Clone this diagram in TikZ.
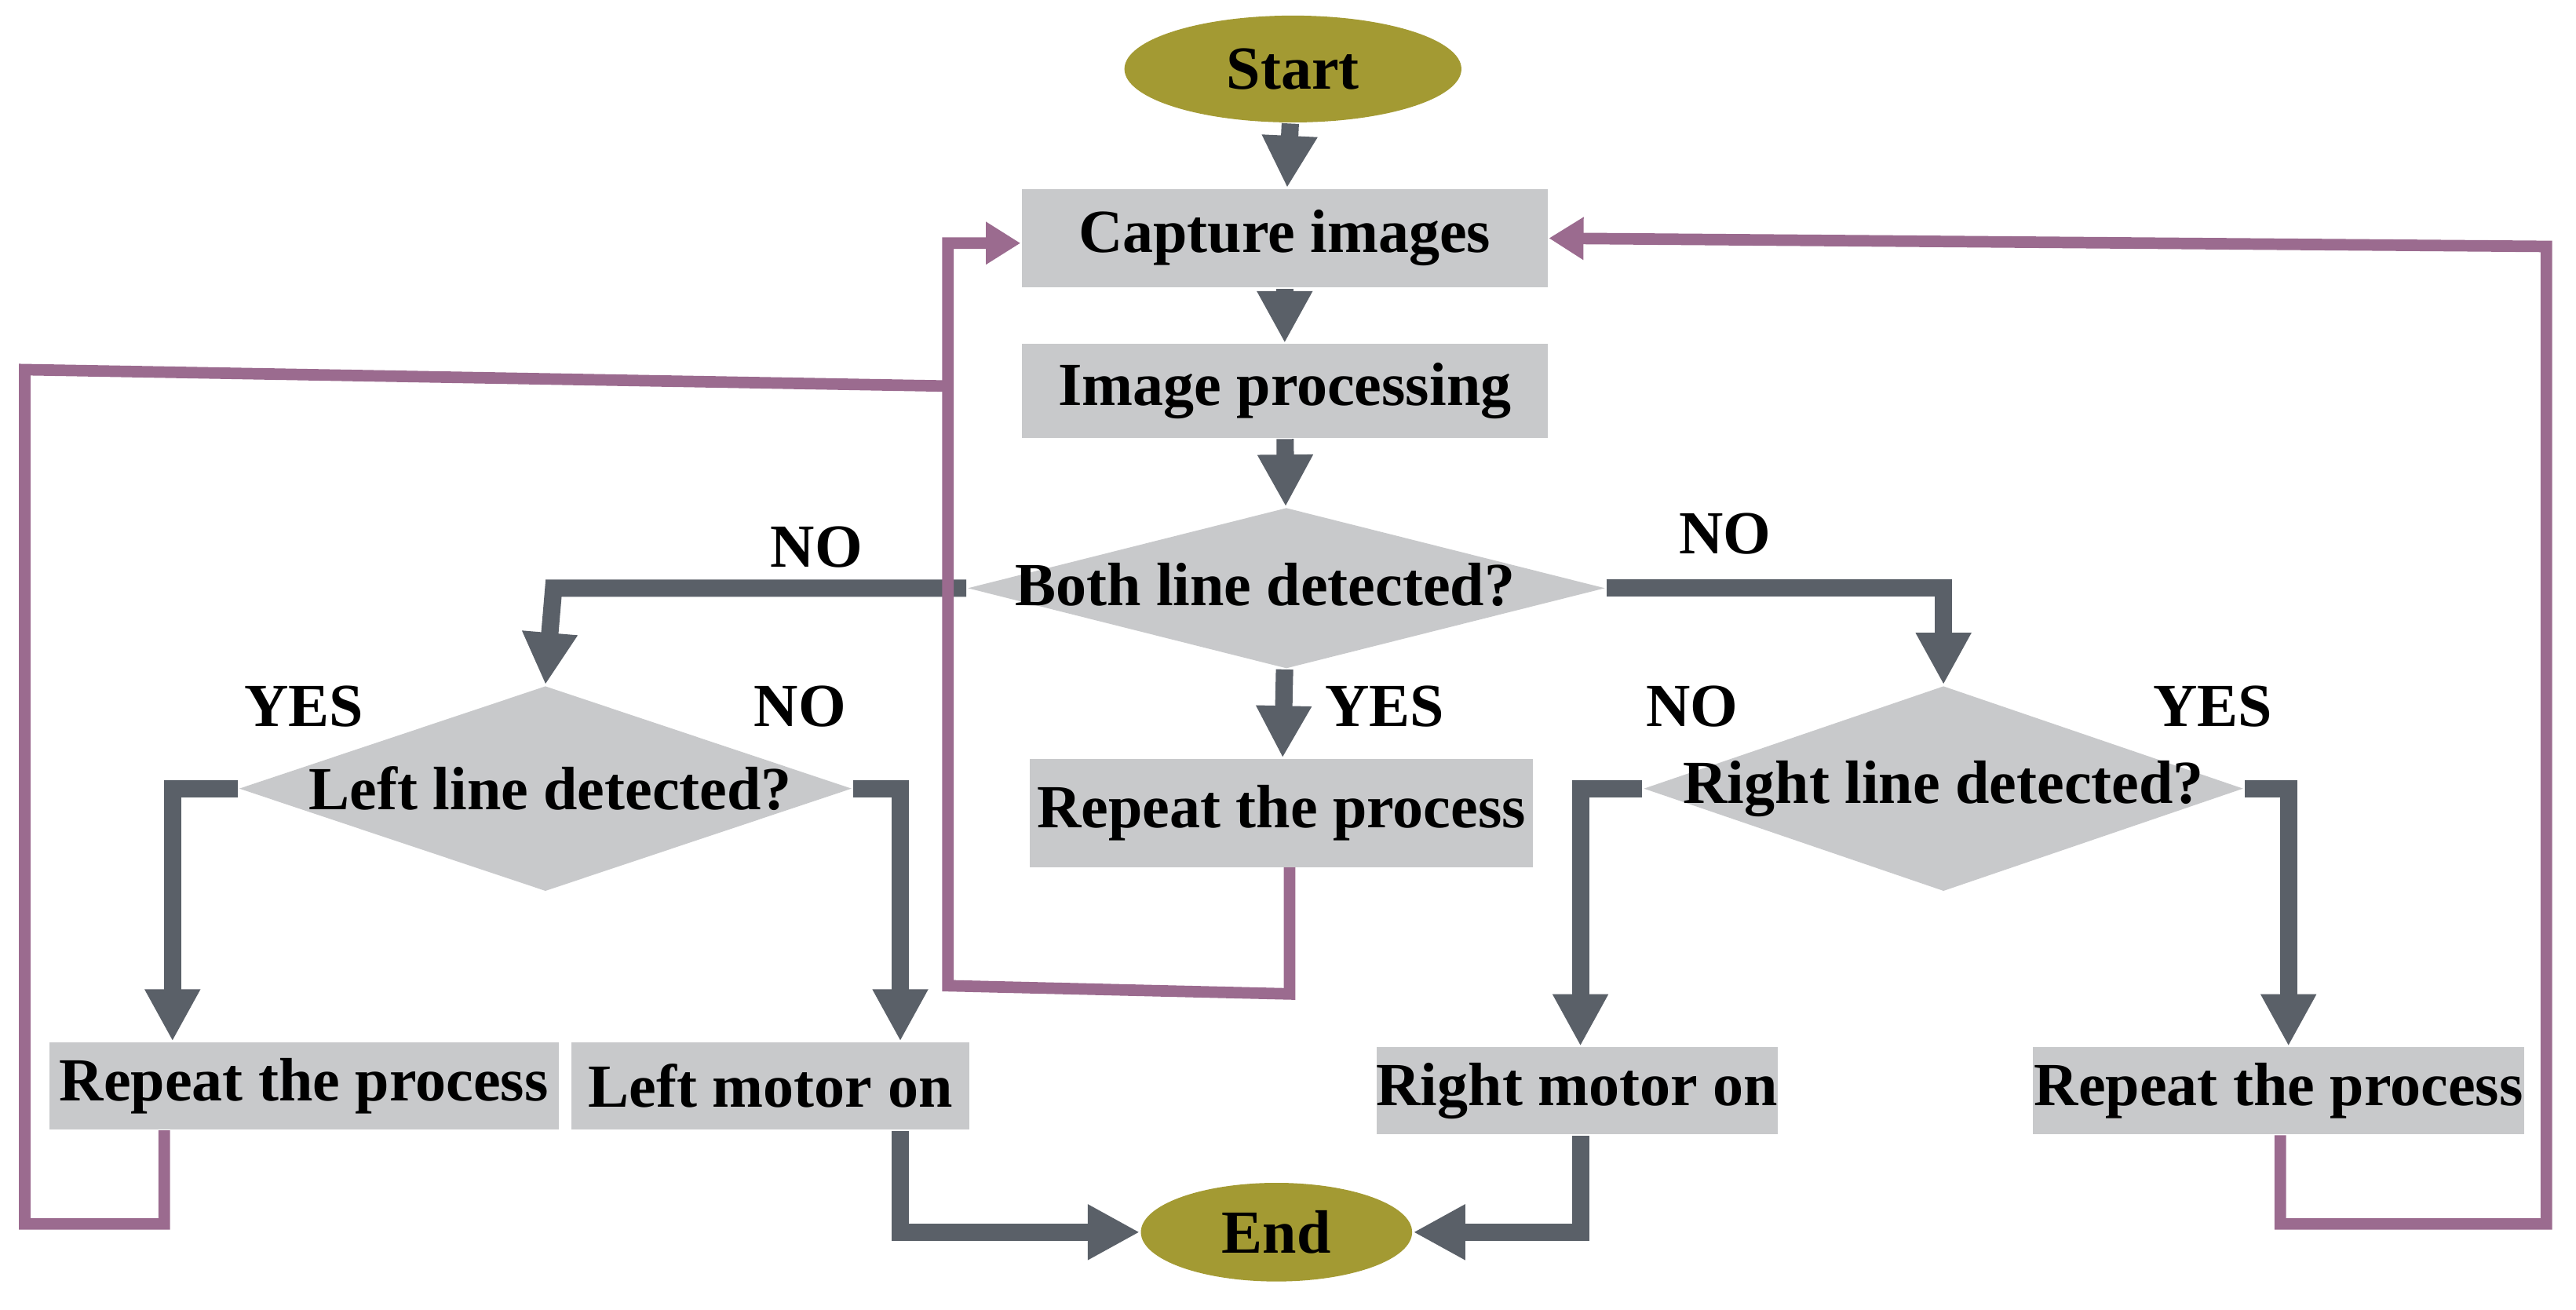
\documentclass[tikz,border=0pt]{standalone}
\usepackage{fontspec}
\setmainfont{Liberation Serif}
\usetikzlibrary{shapes.geometric,arrows.meta}
\definecolor{olive}{HTML}{A39A33}
\definecolor{boxg}{HTML}{C8C9CB}
\definecolor{arr}{HTML}{5A6068}
\definecolor{pur}{HTML}{9B6B8F}
\begin{document}
\begin{tikzpicture}[x=0.01cm,y=-0.01cm,
  every node/.style={font=\fontsize{10.6}{12}\selectfont\bfseries},
  term/.style={ellipse,fill=olive,inner sep=0},
  box/.style={rectangle,fill=boxg,inner sep=0},
  dia/.style={diamond,fill=boxg,aspect=4,inner sep=0},
  ga/.style={draw=arr,line width=3pt,-{Triangle[length=9pt,width=9pt]}},
  gl/.style={draw=arr,line width=3pt},
  pa/.style={draw=pur,line width=2pt,-{Triangle[length=6pt,width=7pt]}},
  pl/.style={draw=pur,line width=2pt},
  lab/.style={}]
\useasboundingbox (0,0) rectangle (1568,797);
\node[term,minimum width=2.05cm,minimum height=0.65cm] (start) at (787,42) {Start};
\node[box,minimum width=3.2cm,minimum height=0.6cm] (cap) at (782,145) {Capture images};
\node[box,minimum width=3.2cm,minimum height=0.57cm] (img) at (782,238) {Image processing};
\node[dia,minimum width=3.88cm,minimum height=0.98cm] (both) at (783,358) {};
\node at (770,356) {Both line detected?};
\node[dia,minimum width=3.73cm,minimum height=1.25cm] (left) at (332,480) {};
\node at (335,480) {Left line detected?};
\node[dia,minimum width=3.65cm,minimum height=1.25cm] (right) at (1183,480) {};
\node at (1183,480) {Right line detected?};
\node[box,minimum width=3.06cm,minimum height=0.66cm] (rc) at (780,495) {Repeat the process};
\node[box,minimum width=3.1cm,minimum height=0.53cm] (rl) at (185,661) {Repeat the process};
\node[box,minimum width=2.42cm,minimum height=0.53cm] (lm) at (469,661) {Left motor on};
\node[box,minimum width=2.44cm,minimum height=0.53cm] (rm) at (960,664) {Right motor on};
\node[box,minimum width=2.99cm,minimum height=0.53cm] (rr) at (1387,664) {Repeat the process};
\node[term,minimum width=1.65cm,minimum height=0.6cm] (end) at (777,750) {End};
\coordinate (c1) at (337,358); \coordinate (c2) at (1183,358);
\coordinate (c3) at (105,480); \coordinate (c4) at (548,480);
\coordinate (c5) at (962,480); \coordinate (c6) at (1393,480);
\coordinate (c7) at (548,750); \coordinate (c8) at (962,750);
\path[ga] (start) -- (cap);
\path[ga] (cap) -- (img);
\path[ga] (img) -- (both);
\path[ga] (both) -- (rc);
\path[ga] (both.west) -- (c1) -- (left.north);
\path[ga] (both.east) -- (c2) -- (right.north);
\path[ga] (left.west) -- (c3) -- (c3|-rl.north);
\path[ga] (left.east) -- (c4) -- (c4|-lm.north);
\path[ga] (right.west) -- (c5) -- (c5|-rm.north);
\path[ga] (right.east) -- (c6) -- (c6|-rr.north);
\path[ga] (c4|-lm.south) -- (c7) -- (end.west);
\path[ga] (c5|-rm.south) -- (c8) -- (end.east);
\coordinate (p1) at (785,605); \coordinate (p2) at (577,600); \coordinate (p3) at (577,148);
\coordinate (p4) at (100,745); \coordinate (p5) at (15,745); \coordinate (p6) at (15,225); \coordinate (p7) at (577,235);
\coordinate (q1) at (1388,745); \coordinate (q2) at (1550,745); \coordinate (q3) at (1550,150);
\path[pa] (785,528) -- (p1) -- (p2) -- (p3) -- (cap.west|-p3);
\path[pl] (100,688) -- (p4) -- (p5) -- (p6) -- (p7);
\path[pa] (1388,691) -- (q1) -- (q2) -- (q3) -- (cap.east);
\node at (497,333) {NO};
\node at (1050,325) {NO};
\node at (843,430) {YES};
\node at (185,430) {YES};
\node at (487,430) {NO};
\node at (1030,430) {NO};
\node at (1347,430) {YES};
\end{tikzpicture}
\end{document}
